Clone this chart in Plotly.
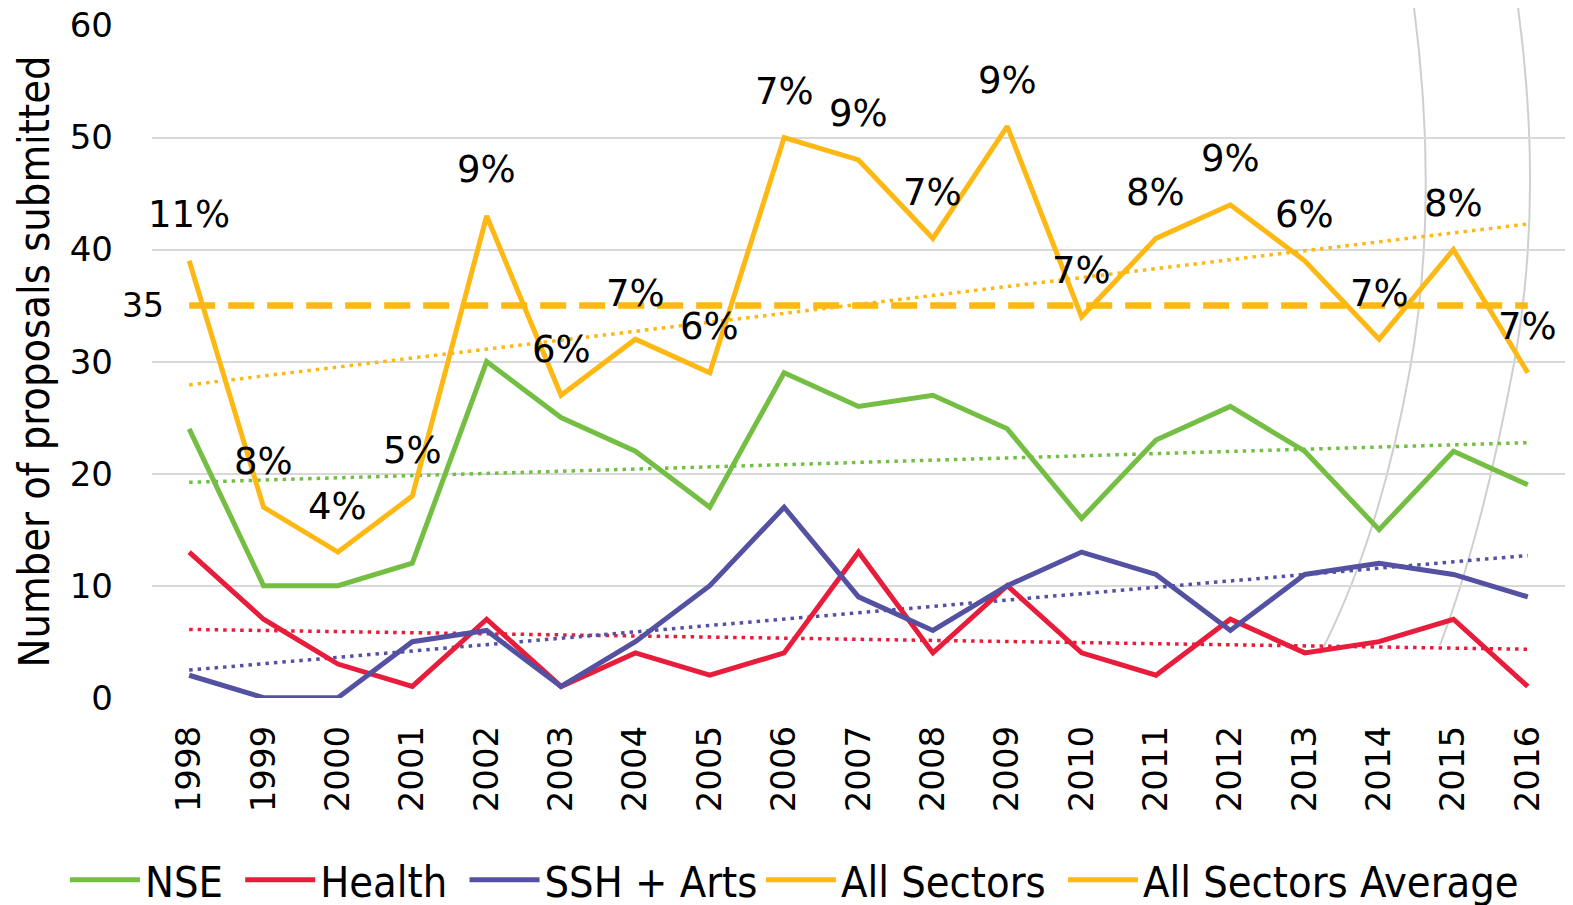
import numpy as np
import plotly.graph_objects as go

# data
years = [str(y) for y in range(1998, 2017)]
nse = [24, 10, 10, 12, 30, 25, 22, 17, 29, 26, 27, 24, 16, 23, 26, 22, 15, 22, 19]
health = [13, 7, 3, 1, 7, 1, 4, 2, 4, 13, 4, 10, 4, 2, 7, 4, 5, 7, 1]
ssh_arts = [2, 0, 0, 5, 6, 1, 5, 10, 17, 9, 6, 10, 13, 11, 6, 11, 12, 11, 9]
all_sectors = [39, 17, 13, 18, 43, 27, 32, 29, 50, 48, 41, 51, 34, 41, 44, 39, 32, 40, 29]
pct_labels = ["11%", "8%", "4%", "5%", "9%", "6%", "7%", "6%", "7%", "9%",
              "7%", "9%", "7%", "8%", "9%", "6%", "7%", "8%", "7%"]
avg_value = 35

GREEN = "#74BE43"
RED = "#E81C3B"
BLUE = "#5451A2"
GOLD = "#FDB813"

LABEL_FONT = "DejaVu Sans"
NARROW_FONT = "Liberation Sans Narrow, DejaVu Sans Condensed, sans-serif"
GAP = "\u00a0"  # a bit of air between legend entries


def trend(vals):
    # linear trendline, same as the spreadsheet's
    xs = np.arange(len(vals))
    k, b = np.polyfit(xs, vals, 1)
    return k * xs + b


fig = go.Figure()

# dotted trendlines underneath
for vals, col in [(nse, GREEN), (health, RED), (ssh_arts, BLUE), (all_sectors, GOLD)]:
    fig.add_trace(go.Scatter(x=years, y=trend(vals), mode="lines", showlegend=False,
                             hoverinfo="skip",
                             line=dict(color=col, width=3.5, dash="3.5px,5px")))

avg_line = [avg_value] * len(years)
fig.add_trace(go.Scatter(x=years, y=avg_line, mode="lines", showlegend=False,
                         line=dict(color=GOLD, width=6.5, dash="26px,13px")))

fig.add_trace(go.Scatter(x=years, y=nse, mode="lines", name="NSE" + GAP,
                         line=dict(color=GREEN, width=5), legend="legend"))
fig.add_trace(go.Scatter(x=years, y=health, mode="lines", name="Health" + GAP,
                         line=dict(color=RED, width=5), legend="legend"))
fig.add_trace(go.Scatter(x=years, y=ssh_arts, mode="lines", name="SSH + Arts",
                         line=dict(color=BLUE, width=5), legend="legend"))
fig.add_trace(go.Scatter(x=years, y=all_sectors, mode="lines", name="All Sectors" + GAP,
                         line=dict(color=GOLD, width=5), legend="legend2"))
# legend entry for the average (solid swatch, like the original)
fig.add_trace(go.Scatter(x=[years[0]], y=[None], mode="lines", name="All Sectors Average",
                         line=dict(color=GOLD, width=5), legend="legend2"))

# percentage labels above the All Sectors points
for i, (v, lab) in enumerate(zip(all_sectors, pct_labels)):
    fig.add_annotation(x=i, y=v, xref="x", yref="y", text=lab, showarrow=False,
                       yshift=46, font=dict(family=LABEL_FONT, size=37, color="black"))

fig.add_annotation(x=0, y=avg_value, xref="x", yref="y", text=str(avg_value),
                   showarrow=False, xshift=-46,
                   font=dict(family=LABEL_FONT, size=33, color="black"))

# faint decorative arcs on the right edge
def px_to_paper(px, py):
    return (px - 152) / (1565 - 152), (698 - py) / (698 - 25)

arcs = [
    [(1413, 0), (1440, 200), (1410, 369), (1320, 654)],
    [(1517, 0), (1545, 200), (1513, 369), (1440, 645)],
]
for pts in arcs:
    p = [px_to_paper(*q) for q in pts]
    path = "M {0},{1} Q {2},{3} {4},{5} T {6},{7}".format(
        p[0][0], p[0][1], p[1][0], p[1][1], p[2][0], p[2][1], p[3][0], p[3][1])
    fig.add_shape(type="path", path=path, xref="paper", yref="paper",
                  line=dict(color="rgba(195,195,195,0.8)", width=2), layer="below")

legend_style = dict(orientation="h", xref="container", xanchor="left",
                    yref="container", y=0.028, yanchor="middle",
                    bgcolor="rgba(0,0,0,0)",
                    font=dict(family=NARROW_FONT, size=43, color="black"),
                    itemwidth=70, traceorder="normal")

# the page body has an 8px margin, so the figure is 8px smaller and shifted
fig.update_layout(
    width=1565, height=897,
    margin=dict(l=144, r=8, t=17, b=207),
    plot_bgcolor="white", paper_bgcolor="white",
    showlegend=True,
    legend=dict(x=0.0364, **legend_style),
    legend2=dict(x=0.4811, **legend_style),
)
fig.update_xaxes(type="category", range=[-0.5, len(years) - 0.5], automargin=False,
                 tickangle=-90, showgrid=False, ticks="", ticklabelstandoff=20,
                 tickfont=dict(family=LABEL_FONT, size=34, color="black"))
fig.update_yaxes(range=[-0.03, 60.05], tickvals=[0, 10, 20, 30, 40, 50, 60],
                 showgrid=True, gridcolor="#D9D9D9", automargin=False,
                 gridwidth=1.5, zeroline=False, ticks="", ticklabelstandoff=38,
                 ticklabeloverflow="allow",
                 tickfont=dict(family=LABEL_FONT, size=34, color="black"),
                 title=dict(text="Number of proposals submitted", standoff=6,
                            font=dict(family=NARROW_FONT, size=43, color="black")))

fig.write_html("out.html")
